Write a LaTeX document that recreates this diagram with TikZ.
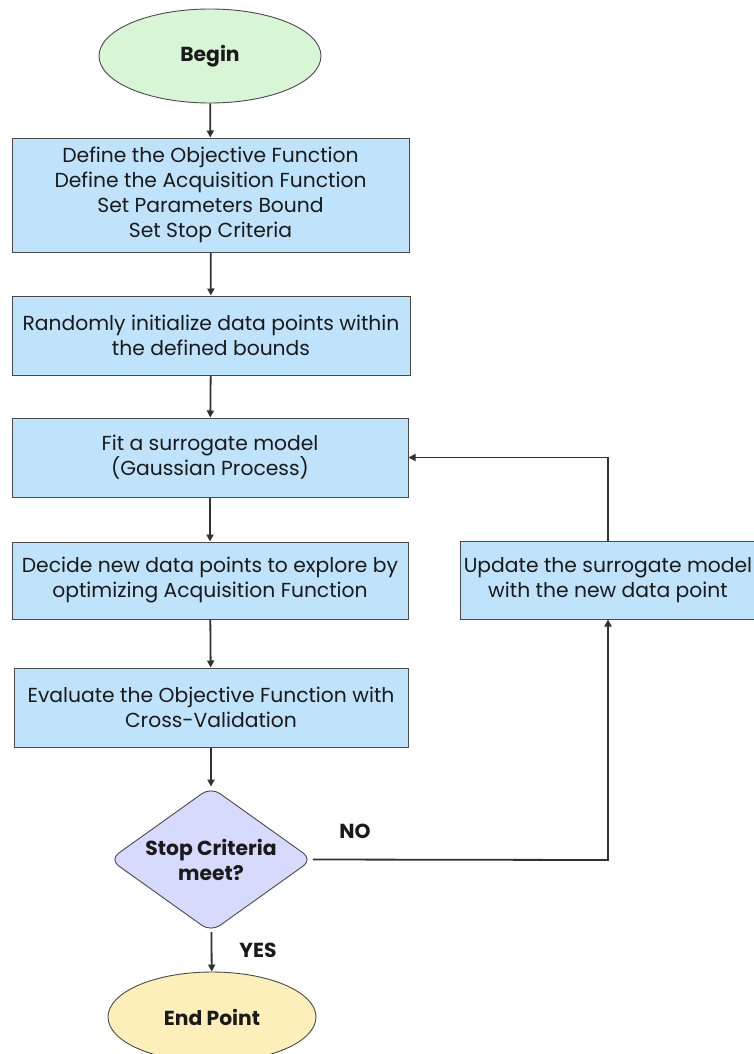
\documentclass[tikz,border=0pt]{standalone}
\usepackage{fontspec}
\setmainfont{Poppins}
\usetikzlibrary{shapes.geometric,arrows.meta}
\definecolor{boxblue}{HTML}{BEE3FB}
\definecolor{startgreen}{HTML}{D8F6D6}
\definecolor{decviolet}{HTML}{D6DAFC}
\definecolor{endyellow}{HTML}{FCEFB9}
\definecolor{edgegrey}{HTML}{4A4A4A}
\definecolor{ink}{HTML}{1A1A1A}
\newcommand{\labelsize}{\fontsize{20.3}{25}\selectfont}
\begin{document}
\begin{tikzpicture}[x=1pt,y=-1pt,
  every node/.style={text=ink,font=\labelsize},
  stepbox/.style={draw=edgegrey,line width=1pt,fill=boxblue,rectangle,inner sep=0pt,align=center},
  terminal/.style={draw=edgegrey,line width=0.9pt,ellipse,inner sep=0pt,align=center,
    font=\labelsize\bfseries},
  decision/.style={draw=edgegrey,line width=0.9pt,fill=decviolet,diamond,shape aspect=1.4,
    rounded corners=11pt,inner sep=0pt,align=center,font=\labelsize\bfseries},
  flow/.style={draw=ink!90,line width=1.8pt,-{Triangle[length=7pt,width=7pt]}},
  tag/.style={font=\labelsize\bfseries}
]
\clip (0,0) rectangle (754,1054);
\useasboundingbox (0,0) rectangle (754,1054);

\node[terminal,fill=startgreen,minimum width=222pt,minimum height=94pt] (begin) at (210,56) {Begin};

\node[stepbox,minimum width=397pt,minimum height=114pt] (setup) at (210.5,195)
  {Define the Objective Function\\Define the Acquisition Function\\Set Parameters Bound\\Set Stop Criteria};
\node[stepbox,minimum width=398pt,minimum height=79pt] (init) at (211,335.5)
  {Randomly initialize data points within\\the defined bounds};
\node[stepbox,minimum width=396pt,minimum height=79pt] (fit) at (210,457.5)
  {Fit a surrogate model\\(Gaussian Process)};
\node[stepbox,minimum width=396pt,minimum height=77pt] (acq) at (210,580.5)
  {Decide new data points to explore by\\optimizing Acquisition Function};
\node[stepbox,minimum width=394pt,minimum height=79pt] (eval) at (211,707.5)
  {Evaluate the Objective Function with\\Cross-Validation};
\node[stepbox,minimum width=296pt,minimum height=78pt] (update) at (608,580)
  {Update the surrogate model\\with the new data point};

\node[decision,minimum width=203pt,minimum height=145pt] (stop) at (211,859.5)
  {Stop Criteria\\meet?};

\node[terminal,fill=endyellow,minimum width=208pt,minimum height=90pt] (finish) at (212,1017) {End Point};

\coordinate (noturn) at (608,860);
\coordinate (upturn) at (608,457.5);

\draw[flow] (begin) -- (setup);
\draw[flow] (setup) -- (init);
\draw[flow] (init) -- (fit);
\draw[flow] (fit) -- (acq);
\draw[flow] (acq) -- (eval);
\draw[flow] (eval) -- (stop);
\draw[flow] (stop) -- (finish);
\draw[flow] (stop.east) -- (noturn) -- (update.south);
\draw[flow] (update.north) -- (upturn) -- (fit.east);

\node[tag] (no) at (355,831) {NO};
\node[tag] (yes) at (258,950) {YES};
\end{tikzpicture}
\end{document}
